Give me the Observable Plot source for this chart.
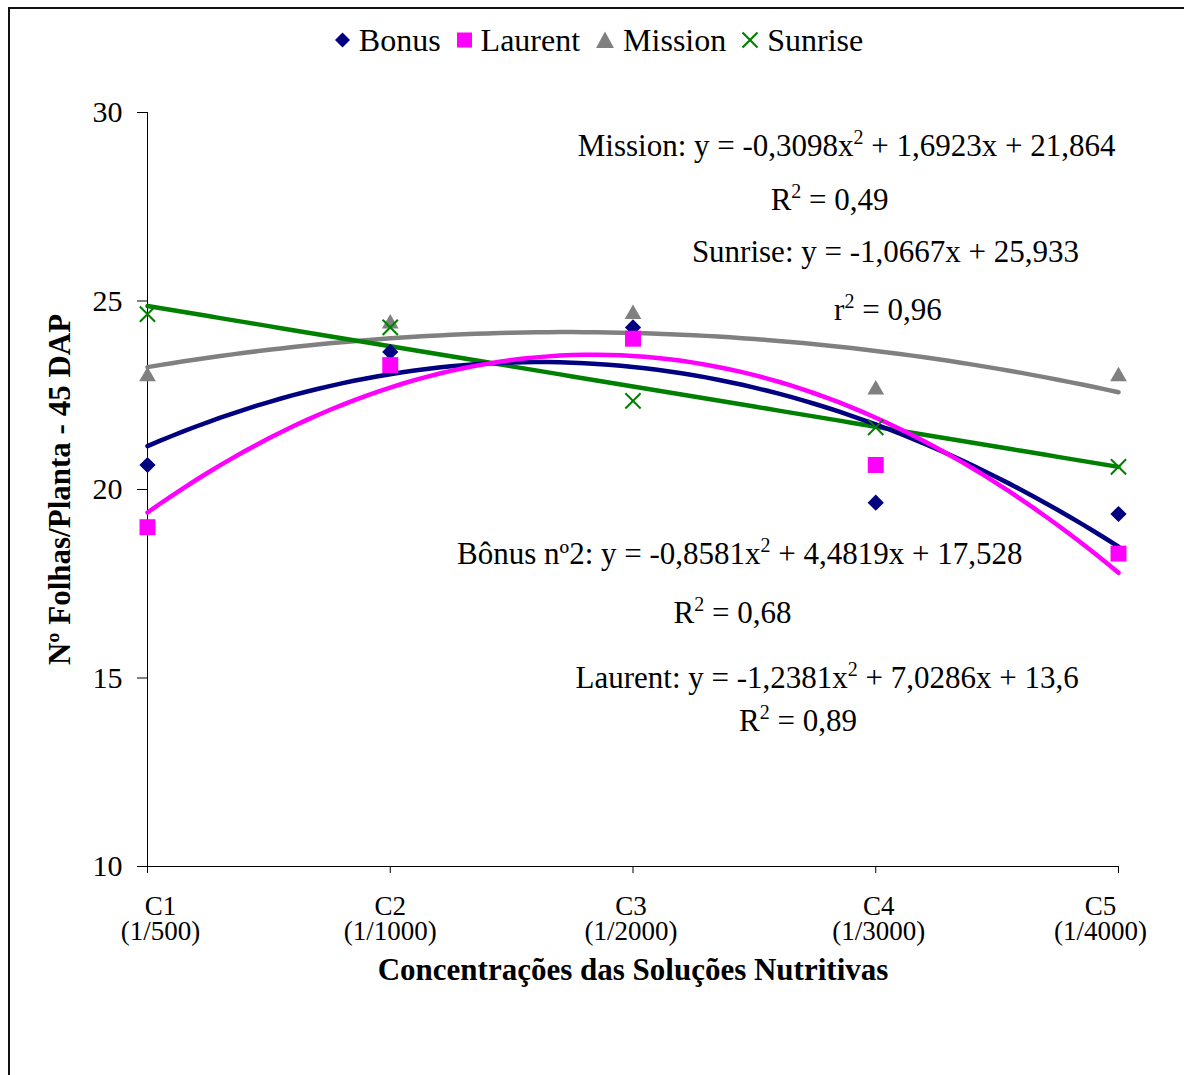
<!DOCTYPE html>
<html>
<head>
<meta charset="utf-8">
<script src="https://cdn.jsdelivr.net/npm/d3@7"></script>
<script src="https://cdn.jsdelivr.net/npm/@observablehq/plot@0.6"></script>
<style>
  html, body { margin: 0; padding: 0; background: #fff; }
  #wrap { position: relative; width: 1184px; height: 1075px; overflow: hidden; background: #fff;
          font-family: "Liberation Serif", "Times New Roman", serif; }
  #frame { position: absolute; left: 8px; top: 7px; width: 1200px; height: 1200px;
           border-left: 2px solid #111; border-top: 2px solid #111; pointer-events: none; }
  #legend { position: absolute; top: 19px; left: 7px; width: 1184px; height: 42px; display: flex;
            justify-content: center; align-items: center; font-size: 32px; color: #000; z-index: 2; }
  #legend .item { display: flex; align-items: center; margin: 0 8px; }
  #legend svg { margin-right: 9px; }
  #chart { position: absolute; left: 0; top: 0; }
</style>
</head>
<body>
<div id="wrap">
  <div id="chart"></div>
  <div id="legend"></div>
  <div id="frame"></div>
</div>
<script>
// ---- data ----
const categories = ["C1", "C2", "C3", "C4", "C5"];
const dilutions = ["(1/500)", "(1/1000)", "(1/2000)", "(1/3000)", "(1/4000)"];
const xPositions = [1, 2, 3, 4, 5];
const yTicks = [10, 15, 20, 25, 30];

const bonus   = [20.65, 23.65, 24.3, 19.65, 19.35];
const laurent = [19.0, 23.3, 24.0, 20.65, 18.3];
const mission = [23.0, 24.4, 24.65, 22.65, 23.0];
const sunrise = [24.65, 24.3, 22.35, 21.65, 20.6];

// trendline coefficients as printed on the chart [a, b, c] for y = a x^2 + b x + c
const bonusFit   = [-0.8581, 4.4819, 17.528];
const laurentFit = [-1.2381, 7.0286, 13.6];
const missionFit = [-0.3098, 1.6923, 21.864];
const sunriseFit = [0, -1.0667, 25.933];

const seriesNames = ["Bonus", "Laurent", "Mission", "Sunrise"];
const seriesColors = ["#000080", "#FF00FF", "#808080", "#008000"];

const annTexts = [
  "Mission: y = -0,3098x² + 1,6923x + 21,864",
  "R² = 0,49",
  "Sunrise: y = -1,0667x + 25,933",
  "r² = 0,96",
  "Bônus nº2: y = -0,8581x² + 4,4819x + 17,528",
  "R² = 0,68",
  "Laurent: y = -1,2381x² + 7,0286x + 13,6",
  "R² = 0,89"
];
const annX = [3.88, 3.81, 4.04, 4.05, 3.44, 3.41, 3.80, 3.68];
const annY = [29.12, 27.67, 26.29, 24.75, 18.28, 16.71, 14.99, 13.85];

const xTitle = "Concentrações das Soluções Nutritivas";
const yTitle = "Nº Folhas/Planta - 45 DAP";

// ---- build tables ----
const pts = (vals) => xPositions.map((x, i) => ({x, y: vals[i]}));
const fitCurve = (c) => d3.range(1, 5.0001, 0.05).map(x => ({x, y: c[0]*x*x + c[1]*x + c[2]}));
const annotations = annTexts.map((t, i) => ({text: t, x: annX[i], y: annY[i]}));
const tickLabel = (v) => categories[v-1] + "\n" + dilutions[v-1];

const font = '"Liberation Serif", "Times New Roman", serif';

const plot = Plot.plot({
  width: 1184,
  height: 1075,
  marginLeft: 147,
  marginRight: 66,
  marginTop: 112,
  marginBottom: 209,
  style: {fontFamily: font, background: "transparent", color: "#000"},
  x: {type: "linear", domain: [1, 5]},
  y: {domain: [10, 30]},
  marks: [
    Plot.axisY({ticks: yTicks, tickSize: 10, tickPadding: 15, fontSize: 30, label: null, stroke: "#000"}),
    Plot.axisX({ticks: xPositions, tickSize: 7, tickPadding: 23, fontSize: 27, lineHeight: 0.95,
                tickFormat: tickLabel, label: null, stroke: "#000"}),
    Plot.ruleX([1], {stroke: "#000", strokeWidth: 1}),
    Plot.ruleY([10], {stroke: "#000", strokeWidth: 1}),
    Plot.text([yTitle], {frameAnchor: "left", textAnchor: "middle", rotate: -90, dx: -87, fontSize: 31, fontWeight: "bold", fill: "#000"}),
    Plot.text([xTitle], {frameAnchor: "bottom", textAnchor: "middle", dy: 113, fontSize: 31, fontWeight: "bold", fill: "#000"}),
    Plot.line(fitCurve(missionFit), {x: "x", y: "y", stroke: seriesColors[2], strokeWidth: 4.5}),
    Plot.line(fitCurve(sunriseFit), {x: "x", y: "y", stroke: seriesColors[3], strokeWidth: 4.5}),
    Plot.line(fitCurve(bonusFit), {x: "x", y: "y", stroke: seriesColors[0], strokeWidth: 4.5}),
    Plot.line(fitCurve(laurentFit), {x: "x", y: "y", stroke: seriesColors[1], strokeWidth: 4.5}),
    Plot.dot(pts(mission), {x: "x", y: "y", symbol: "triangle", r: 6.2, fill: seriesColors[2]}),
    Plot.dot(pts(bonus), {x: "x", y: "y", symbol: "diamond2", r: 7.3, fill: seriesColors[0]}),
    Plot.dot(pts(laurent), {x: "x", y: "y", symbol: "square", r: 9, fill: seriesColors[1]}),
    Plot.dot(pts(sunrise), {x: "x", y: "y", symbol: "times", r: 7, stroke: seriesColors[3], strokeWidth: 2}),
    Plot.text(annotations, {x: "x", y: "y", text: "text", fontSize: 31, fill: "#000", textAnchor: "middle"})
  ]
});
document.getElementById("chart").appendChild(plot);

// nudge the outer category labels inward, as in the reference
const shifts = [13, 0, -2, 3, -18];
d3.select(plot).selectAll('g[aria-label="x-axis tick label"] text').each(function(d, i) {
  const t = d3.select(this);
  const tr = t.attr("transform") || "";
  const m = tr.match(/translate\(([-\d.]+),\s*([-\d.]+)\)/);
  if (m) t.attr("transform", `translate(${+m[1] + shifts[i]},${m[2]})`);
});

// render "²" as a raised small 2, like the reference
const ns = "http://www.w3.org/2000/svg";
Array.from(plot.querySelectorAll("text")).forEach(el => {
  if (el.querySelector("tspan")) return;
  const s = el.textContent;
  if (!s.includes("²")) return;
  const parts = s.split("²");
  while (el.firstChild) el.removeChild(el.firstChild);
  parts.forEach((p, i) => {
    const a = document.createElementNS(ns, "tspan");
    a.textContent = p;
    if (i > 0) a.setAttribute("dy", "12");
    el.appendChild(a);
    if (i < parts.length - 1) {
      const sup = document.createElementNS(ns, "tspan");
      sup.textContent = "2";
      sup.setAttribute("dy", "-12");
      sup.setAttribute("font-size", "20");
      el.appendChild(sup);
    }
  });
});

// legend
const legendSymbols = [
  '<svg width="15" height="16" viewBox="-7.5 -8 15 16"><path d="M0,-7.5L7.5,0L0,7.5L-7.5,0Z" fill="#000080"/></svg>',
  '<svg width="15" height="16" viewBox="-7.5 -8 15 16"><rect x="-7.5" y="-7.5" width="15" height="15" fill="#FF00FF"/></svg>',
  '<svg width="18" height="18" viewBox="-9 -9 18 18"><path d="M0,-8.5L9,8L-9,8Z" fill="#808080"/></svg>',
  '<svg width="16" height="18" viewBox="-8 -9 16 18"><path d="M-7.5,-7.5L7.5,7.5M7.5,-7.5L-7.5,7.5" stroke="#008000" stroke-width="2.2"/></svg>'
];
const legend = document.getElementById("legend");
seriesNames.forEach((n, i) => {
  const it = document.createElement("div");
  it.className = "item";
  it.innerHTML = legendSymbols[i] + "<span>" + n + "</span>";
  legend.appendChild(it);
});
</script>
</body>
</html>
